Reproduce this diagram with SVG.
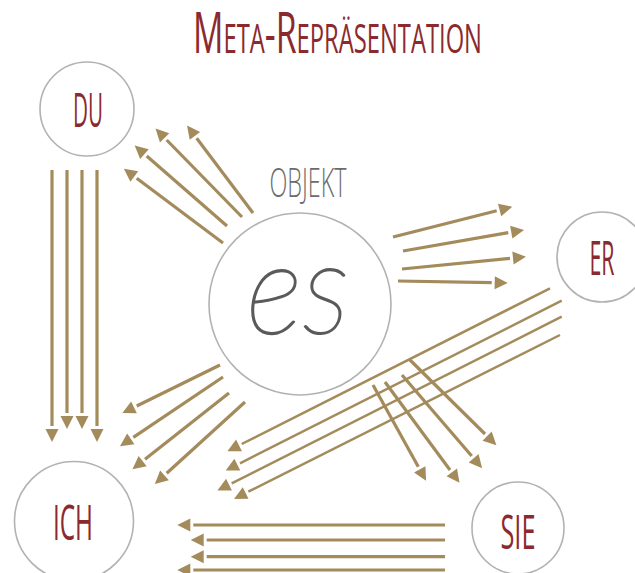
<svg xmlns="http://www.w3.org/2000/svg" width="635" height="573" viewBox="0 0 635 573">
<style>
.node{fill:#fff;stroke:#b2b2b2;stroke-width:1.6}
.lbl{font-family:"Open Sans","Liberation Sans",sans-serif;font-weight:400;fill:#8b2a2e;text-anchor:middle}
.c{stroke:#a38b5c;stroke-width:3.2;fill:none;marker-end:url(#ah)}
.t{stroke-width:2.5}
</style>
<defs>
<marker id="ah" markerUnits="userSpaceOnUse" markerWidth="13" markerHeight="13" refX="-3" refY="6.5" orient="auto" overflow="visible">
<path d="M0,0 L13,6.5 L0,13 Z" fill="#a38b5c"/>
</marker>
</defs>
<rect width="635" height="573" fill="#fff"/>
<text id="title" class="lbl" x="337.5" y="53" font-size="57" font-variant="small-caps" textLength="289" lengthAdjust="spacingAndGlyphs">Meta-Repräsentation</text>
<g id="connectors">
<g id="du-ich">
<line class="c" x1="52" y1="170" x2="52" y2="426"/>
<line class="c" x1="67" y1="170" x2="67" y2="413"/>
<line class="c" x1="82" y1="170" x2="82" y2="413"/>
<line class="c" x1="97" y1="170" x2="97" y2="426"/>
</g>
<g id="es-du">
<line class="c" x1="223" y1="243" x2="136.7" y2="178.3"/>
<line class="c" x1="227" y1="226" x2="146.7" y2="156"/>
<line class="c" x1="242" y1="217" x2="166.7" y2="140"/>
<line class="c" x1="253" y1="213" x2="196.7" y2="138.3"/>
</g>
<g id="es-er">
<line class="c" x1="393" y1="237" x2="496.7" y2="210.7"/>
<line class="c" x1="403" y1="251" x2="508.3" y2="232.7"/>
<line class="c" x1="402" y1="269" x2="510" y2="258.3"/>
<line class="c" x1="398" y1="281" x2="491.7" y2="282.7"/>
</g>
<g id="es-ich">
<line class="c" x1="220" y1="365" x2="136.7" y2="406"/>
<line class="c" x1="223" y1="377" x2="133.3" y2="437.3"/>
<line class="c" x1="229" y1="393" x2="145" y2="459.3"/>
<line class="c" x1="245" y1="402" x2="166.7" y2="473.3"/>
</g>
<g id="er-ich">
<line class="c t" x1="550" y1="288.3" x2="241.7" y2="444"/>
<line class="c t" x1="561.7" y1="300.7" x2="240" y2="463.3"/>
<line class="c t" x1="561.7" y1="316.7" x2="231.7" y2="483.3"/>
<line class="c t" x1="560" y1="335" x2="248.3" y2="491.7"/>
</g>
<g id="es-sie">
<line class="c" x1="373" y1="385" x2="418.3" y2="466.7"/>
<line class="c" x1="385" y1="382" x2="450" y2="470"/>
<line class="c" x1="402" y1="375" x2="471.7" y2="456"/>
<line class="c" x1="409" y1="359" x2="485" y2="434"/>
</g>
<g id="sie-ich">
<line class="c" x1="445" y1="525" x2="193.3" y2="525"/>
<line class="c" x1="445" y1="540" x2="206.7" y2="540"/>
<line class="c" x1="445" y1="556.7" x2="206.7" y2="556.7"/>
<line class="c" x1="445" y1="570" x2="193.3" y2="570"/>
</g>
</g>
<g id="du">
<circle class="node" cx="87" cy="109" r="47"/>
<text class="lbl" x="88" y="127" font-size="48" textLength="30" lengthAdjust="spacingAndGlyphs">DU</text>
</g>
<g id="es">
<text x="308" y="197" font-family="'Open Sans','Liberation Sans',sans-serif" font-weight="300" font-size="41" fill="#6b6b6b" text-anchor="middle" textLength="77" lengthAdjust="spacingAndGlyphs">OBJEKT</text>
<circle class="node" cx="300" cy="304" r="91"/>
<text x="298" y="333" font-family="Lato,Inter,'Open Sans',sans-serif" font-weight="100" font-style="italic" font-size="128" fill="#5a5a5a" stroke="#5a5a5a" stroke-width="1.8" text-anchor="middle" textLength="103" lengthAdjust="spacingAndGlyphs">es</text>
</g>
<g id="er">
<circle class="node" cx="602" cy="257" r="45"/>
<text class="lbl" x="602" y="275" font-size="48" textLength="25" lengthAdjust="spacingAndGlyphs">ER</text>
</g>
<g id="ich">
<circle class="node" cx="74" cy="521" r="59.5"/>
<text class="lbl" x="73" y="540" font-size="50" textLength="40" lengthAdjust="spacingAndGlyphs">ICH</text>
</g>
<g id="sie">
<circle class="node" cx="518" cy="528" r="46"/>
<text class="lbl" x="518" y="549" font-size="47" textLength="35" lengthAdjust="spacingAndGlyphs">SIE</text>
</g>
</svg>
